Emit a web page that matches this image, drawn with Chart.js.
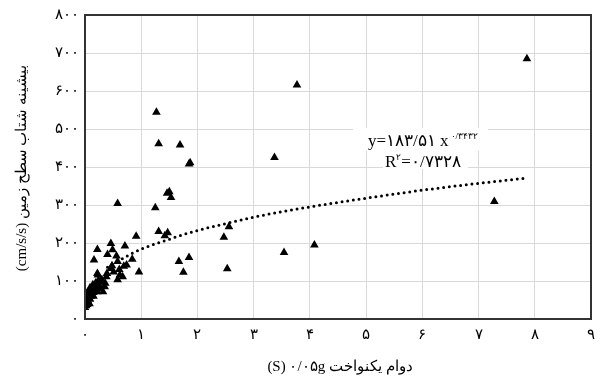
<!DOCTYPE html>
<html>
<head>
<meta charset="utf-8">
<script src="https://cdn.jsdelivr.net/npm/chart.js@4/dist/chart.umd.min.js"></script>
<style>
  html, body { margin: 0; padding: 0; background: #fff; }
  #wrap { width: 602px; height: 385px; }
</style>
</head>
<body>
<div id="wrap"><canvas id="pgaChart"></canvas></div>
<script>
// data
const pgaX = [7.86, 3.77, 1.27, 1.31, 1.69, 1.85, 1.87, 3.37, 1.46, 1.50, 1.53, 1.25, 1.31, 1.47, 1.42,
  2.56, 2.47, 1.67, 1.85, 1.75, 2.53, 0.96, 3.54, 4.08, 7.28, 0.58, 0.91, 0.22, 0.46, 0.71,
  0.16, 0.40, 0.49, 0.56, 0.84, 0.69, 0.46, 0.58, 0.48, 0.74, 0.22, 0.39, 0.51, 0.62, 0.67,
  0.30, 0.36, 0.26, 0.16, 0.10, 0.04, 0.01, 0.02, 0.22, 0.13, 0.07, 0.61, 0.23, 0.38, 0.58,
  0.35, 0.32, 0.09, 0.03, 0.05, 0.12, 0.18, 0.20, 0.28, 0.08, 0.15, 0.25, 0.06, 0.14, 0.02,
  0.00, 0.01, 0.03, 0.05, 0.07, 0.10, 0.12, 0.15, 0.17, 0.20, 0.04, 0.09, 0.11, 0.19, 0.24];
const pgaY = [685, 616, 544, 461, 458, 408, 411, 425, 331, 335, 320, 293, 230, 227, 219,
  243, 215, 151, 162, 123, 132, 124, 175, 195, 309, 304, 218, 183, 199, 192,
  155, 170, 182, 166, 157, 139, 133, 151, 140, 142, 120, 120, 124, 116, 111,
  103, 94, 87, 81, 76, 68, 59, 50, 72, 63, 54, 130, 116, 111, 103,
  85, 72, 82, 45, 62, 70, 78, 92, 98, 40, 60, 80, 72, 90, 35,
  30, 42, 55, 48, 65, 60, 80, 70, 88, 85, 38, 52, 75, 95, 102];

// dotted trend line
const trendX = [0.4, 0.6, 0.8, 1, 1.5, 2, 2.5, 3, 4, 5, 6, 7, 7.85];
const trendY = [136, 153, 170, 184, 210, 233, 251, 268, 295, 318, 339, 357, 371];

const xTickLabels = ['۰', '۱', '۲', '۳', '۴', '۵', '۶', '۷', '۸', '۹'];
const yTickLabels = ['۰', '۱۰۰', '۲۰۰', '۳۰۰', '۴۰۰', '۵۰۰', '۶۰۰', '۷۰۰', '۸۰۰'];

const xTitle = '(S) ۰/۰۵g دوام یکنواخت';
const yTitle = '(cm/s/s) بیشینه شتاب سطح زمین';
const eqMain = 'y=۱۸۳/۵۱ x';
const eqPow = '۰/۳۴۳۲';
const r2Text = '=۰/۷۳۲۸';

const serif = "'Liberation Serif', 'DejaVu Serif', serif";

const overlay = {
  id: 'overlay',
  afterDatasetsDraw(chart) {
    const c = chart.ctx;
    const a = chart.chartArea;
    c.save();

    // frame
    c.strokeStyle = '#333';
    c.lineWidth = 2;
    c.strokeRect(a.left, a.top, a.right - a.left, a.bottom - a.top);

    // equation box
    c.fillStyle = '#fff';
    c.fillRect(353, 128, 135, 23);
    c.fillRect(383, 151, 85, 18);
    c.fillStyle = '#000';
    c.textBaseline = 'alphabetic';
    c.textAlign = 'left';
    c.font = '17px ' + serif;
    c.fillText(eqMain, 368, 146);
    let w = c.measureText(eqMain).width;
    c.font = '9px ' + serif;
    c.fillText(eqPow, 368 + w + 2, 139);

    c.font = '17px ' + serif;
    c.fillText('R', 385, 167);
    let rw = c.measureText('R').width;
    c.font = '9px ' + serif;
    c.fillText('۲', 385 + rw, 160);
    c.font = '17px ' + serif;
    c.fillText(r2Text, 385 + rw + 5, 167);

    // axis titles
    c.font = '15px ' + serif;
    c.textAlign = 'center';
    c.textBaseline = 'middle';
    c.fillText(xTitle, 340, 367);
    c.translate(22, 168);
    c.rotate(-Math.PI / 2);
    c.fillText(yTitle, 0, 0);
    c.restore();
  }
};

new Chart(document.getElementById('pgaChart'), {
  type: 'scatter',
  data: {
    datasets: [
      {
        label: 'trend',
        type: 'line',
        data: trendX.map((x, i) => ({ x: x, y: trendY[i] })),
        borderColor: '#000',
        borderWidth: 3,
        borderDash: [0, 5.7],
        borderCapStyle: 'round',
        pointRadius: 0,
        fill: false,
        cubicInterpolationMode: 'monotone',
        order: 2
      },
      {
        label: 'PGA',
        data: pgaX.map((x, i) => ({ x: x, y: pgaY[i] })),
        pointStyle: 'triangle',
        pointRadius: 5,
        backgroundColor: '#000',
        borderColor: '#000',
        borderWidth: 0,
        order: 1
      }
    ]
  },
  options: {
    responsive: true,
    maintainAspectRatio: false,
    animation: false,
    layout: { padding: { top: 15, right: 2, left: 0, bottom: 0 } },
    plugins: {
      legend: { display: false },
      tooltip: { enabled: false }
    },
    scales: {
      x: {
        type: 'linear',
        min: 0,
        max: 9,
        afterFit(scale) { scale.height = 66; },
        ticks: {
          stepSize: 1,
          padding: 7,
          color: '#000',
          font: { size: 15, family: serif },
          callback: (v, i) => xTickLabels[i]
        },
        grid: { color: '#d9d9d9', drawTicks: false },
        border: { color: '#333', width: 2 }
      },
      y: {
        min: 0,
        max: 800,
        afterFit(scale) { scale.width = 85; },
        ticks: {
          stepSize: 100,
          padding: 6,
          color: '#000',
          font: { size: 15, family: serif },
          callback: (v, i) => yTickLabels[i]
        },
        grid: { color: '#d9d9d9', drawTicks: false },
        border: { color: '#333', width: 2 }
      }
    }
  },
  plugins: [overlay]
});
</script>
</body>
</html>
